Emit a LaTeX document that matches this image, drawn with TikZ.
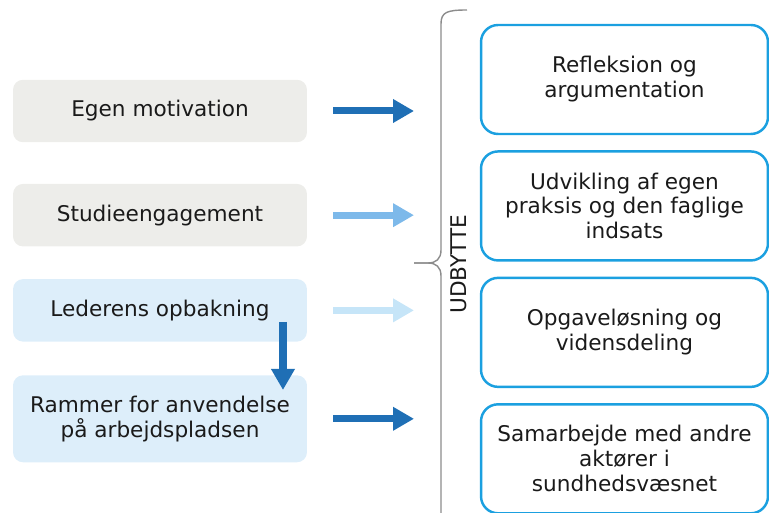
\documentclass[tikz,border=0pt]{standalone}
\usepackage{fontspec}
\setmainfont{DejaVu Sans}
\usepackage{tikz}
\usetikzlibrary{arrows.meta,positioning}
\definecolor{inkDark}{HTML}{1A1A1A}
\definecolor{greyFill}{HTML}{EDEDEA}
\definecolor{paleBlue}{HTML}{DDEEFA}
\definecolor{deepBlue}{HTML}{1F6FB5}
\definecolor{midBlue}{HTML}{7DB9EA}
\definecolor{lightBlue}{HTML}{C6E5F8}
\definecolor{frameBlue}{HTML}{1BA0E0}
\definecolor{braceGrey}{HTML}{8C8C8C}

\begin{document}
\begin{tikzpicture}[
  x=0.02cm,y=-0.02cm,
  font=\fontsize{12.3}{14.2}\selectfont,
  factor/.style={rounded corners=0.2cm,align=center,text=inkDark,minimum width=5.88cm,minimum height=1.25cm,inner sep=2pt},
  outcome/.style={draw=frameBlue,line width=1.4pt,rounded corners=0.34cm,fill=white,align=center,text=inkDark,minimum width=5.74cm,minimum height=2.18cm},
  arr/.style={-{Triangle[length=0.42cm,width=0.45cm]},line width=0.14cm},
  brace/.style={draw=braceGrey,line width=0.8pt}
]
\useasboundingbox (0,0) rectangle (769,513);
% left column
\node[factor,fill=greyFill] (motiv) at (160,111) {Egen motivation};
\node[factor,fill=greyFill,below=0.82cm of motiv] (studie) {Studieengagement};
\node[factor,fill=paleBlue,below=0.64cm of studie] (leder) {Lederens opbakning};
\node[factor,fill=paleBlue,minimum height=1.74cm,below=0.66cm of leder] (rammer) {Rammer for anvendelse\\på arbejdspladsen};
% right column
\node[outcome] (refl) at (624.5,79.5) {Refleksion og\\argumentation};
\node[outcome,below=0.3cm of refl] (udv) {Udvikling af egen\\praksis og den faglige\\indsats};
\node[outcome,below=0.3cm of udv] (opg) {Opgaveløsning og\\vidensdeling};
\node[outcome,below=0.3cm of opg] (samarb) {Samarbejde med andre\\aktører i\\sundhedsvæsnet};
% brace
\coordinate (bt) at (414,263);
\draw[brace] (467,10) .. controls (447,10) and (441,12) .. (441,24) -- (441,250)
  .. controls (441,259) and (436,263) .. (428,263) -- (bt);
\draw[brace] (bt) -- (428,263) .. controls (436,263) and (441,267) .. (441,276) -- (441,513);
\node[rotate=90,text=inkDark] (udbytte) at (459,264) {UDBYTTE};
% arrows
\draw[arr,deepBlue,shorten <=0.52cm] (motiv.east) -- (motiv.east -| bt);
\draw[arr,midBlue,shorten <=0.52cm] (studie.east) -- (studie.east -| bt);
\draw[arr,lightBlue,shorten <=0.52cm] (leder.east) -- (leder.east -| bt);
\draw[arr,deepBlue,shorten <=0.52cm] (rammer.east) -- (rammer.east -| bt);
\draw[arr,deepBlue,line width=0.16cm,shorten <=-0.4cm,shorten >=-0.3cm] ([xshift=2.46cm]leder.south) -- ([xshift=2.46cm]rammer.north);
\end{tikzpicture}
\end{document}
